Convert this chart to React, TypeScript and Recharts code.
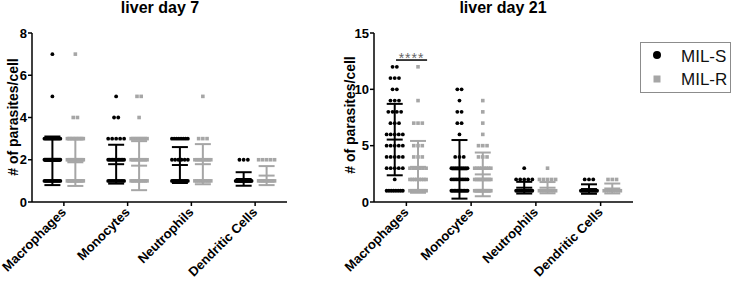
import React from 'react';
import { ScatterChart, Scatter, XAxis, YAxis, ErrorBar, ReferenceLine } from 'recharts';

const categories = ['Macrophages', 'Monocytes', 'Neutrophils', 'Dendritic Cells'];
const groups = ['MIL-S', 'MIL-R'];

// counts of cells per value (index = # of parasites/cell), one array per cell type
const day7MilS = [
  [0, 15, 20, 12, 0, 1, 0, 1],
  [0, 12, 12, 5, 2, 1],
  [0, 14, 6, 8],
  [0, 20, 3],
];
const day7MilR = [
  [0, 12, 14, 12, 2, 0, 0, 1],
  [0, 10, 10, 10, 1, 2],
  [0, 10, 10, 3, 0, 1],
  [0, 10, 5],
];
const day21MilS = [
  [0, 8, 1, 5, 5, 5, 5, 3, 4, 3, 2, 3, 2],
  [0, 12, 10, 9, 3, 0, 1, 2, 2, 1, 2],
  [0, 10, 5, 1],
  [0, 12, 3],
];
const day21MilR = [
  [0, 10, 8, 6, 3, 3, 0, 3, 0, 1, 0, 0, 1],
  [0, 15, 10, 8, 3, 3, 1, 1, 1, 1],
  [0, 8, 5, 1],
  [0, 8, 3],
];

// mean and SD per cell type
const day7MeanS = [1.95, 1.79, 1.75, 1.09];
const day7SdS = [1.15, 0.92, 0.85, 0.32];
const day7MeanR = [1.88, 1.72, 1.79, 1.25];
const day7SdR = [1.12, 1.16, 0.95, 0.45];
const day21MeanS = [5.54, 2.9, 1.27, 1.15];
const day21SdS = [3.17, 2.6, 0.52, 0.42];
const day21MeanR = [3.12, 2.45, 1.27, 1.2];
const day21SdR = [2.3, 1.94, 0.5, 0.44];

const day7Ticks = [0, 2, 4, 6, 8];
const day21Ticks = [0, 5, 10, 15];

const BLACK = '#000000';
const GREY = '#a6a6a6';
const FONT = 'Arial, "Liberation Sans", Helvetica, sans-serif';

const GROUP_OFFSET = 0.18;
const DOT_STEP = 0.066;
const MAX_HALF = 0.125;

function swarm(countsByCat: number[][], side: number) {
  const pts: { x: number; y: number }[] = [];
  countsByCat.forEach((counts, ci) => {
    const center = ci + 1 + side * GROUP_OFFSET;
    counts.forEach((n, v) => {
      if (!n) return;
      const natural = ((n - 1) * DOT_STEP) / 2;
      for (let j = 0; j < n; j++) {
        let off = 0;
        if (n > 1) {
          off = natural <= MAX_HALF ? (j - (n - 1) / 2) * DOT_STEP : -MAX_HALF + (2 * MAX_HALF * j) / (n - 1);
        }
        pts.push({ x: center + off, y: v });
      }
    });
  });
  return pts;
}

function meanRows(means: number[], sds: number[], side: number) {
  return means.map((m, i) => ({ x: i + 1 + side * GROUP_OFFSET, y: m, sd: sds[i] }));
}

const XTick = (props: any) => {
  const { x, y, payload } = props;
  return (
    <g transform={`translate(${x + 3},${y + 5})`}>
      <text
        x={0}
        y={0}
        textAnchor="end"
        transform="rotate(-45)"
        fontFamily={FONT}
        fontWeight="bold"
        fontSize={13}
        fill="#000"
      >
        {categories[payload.value - 1]}
      </text>
    </g>
  );
};

const Dot = (p: any) => <circle cx={p.cx} cy={p.cy} r={1.9} fill={BLACK} />;
const Sq = (p: any) => <rect x={p.cx - 1.8} y={p.cy - 1.8} width={3.6} height={3.6} fill={GREY} />;
const meanLine = (color: string) => (p: any) =>
  <line x1={p.cx - 8} x2={p.cx + 8} y1={p.cy} y2={p.cy} stroke={color} strokeWidth={2} />;

function Panel(props: {
  yMax: number;
  ticks: number[];
  sCounts: number[][];
  rCounts: number[][];
  sMean: number[];
  sSd: number[];
  rMean: number[];
  rSd: number[];
  yWidth: number;
  right: number;
  sig?: boolean;
}) {
  const sPts = swarm(props.sCounts, -1);
  const rPts = swarm(props.rCounts, 1);
  const sM = meanRows(props.sMean, props.sSd, -1);
  const rM = meanRows(props.rMean, props.rSd, 1);
  return (
    <ScatterChart width={300} height={281} margin={{ top: 33, right: props.right, bottom: 0, left: 0 }}>
      <XAxis
        type="number"
        dataKey="x"
        domain={[0.5, 4.5]}
        ticks={[1, 2, 3, 4]}
        allowDataOverflow
        height={79}
        tick={<XTick />}
        tickSize={4}
        stroke="#000"
        strokeWidth={1.5}
        interval={0}
      />
      <YAxis
        type="number"
        dataKey="y"
        domain={[0, props.yMax]}
        ticks={props.ticks}
        allowDataOverflow
        width={props.yWidth}
        tickSize={4}
        tickMargin={1}
        stroke="#000"
        strokeWidth={1.5}
        tick={{ fill: '#000', fontSize: 13, fontWeight: 'bold', fontFamily: FONT }}
        interval={0}
      />
      <Scatter name={groups[0]} data={sPts} shape={Dot} isAnimationActive={false} />
      <Scatter name={groups[1]} data={rPts} shape={Sq} isAnimationActive={false} />
      <Scatter data={sM} shape={meanLine(BLACK)} isAnimationActive={false}>
        <ErrorBar dataKey="sd" direction="y" width={8} stroke={BLACK} strokeWidth={2} isAnimationActive={false} />
      </Scatter>
      <Scatter data={rM} shape={meanLine(GREY)} isAnimationActive={false}>
        <ErrorBar dataKey="sd" direction="y" width={8} stroke={GREY} strokeWidth={2} isAnimationActive={false} />
      </Scatter>
      {props.sig && (
        <ReferenceLine
          segment={[
            { x: 0.84, y: 12.6 },
            { x: 1.32, y: 12.6 },
          ]}
          stroke="#000"
          strokeWidth={1.5}
          label={{
            value: '****',
            position: 'top',
            fill: '#666',
            fontSize: 14,
            fontFamily: FONT,
            offset: -3,
            letterSpacing: 1,
          }}
        />
      )}
    </ScatterChart>
  );
}

export default function App() {
  return (
    <div style={{ position: 'absolute', left: 0, top: 0, width: 734, height: 281, background: '#fff', fontFamily: FONT }}>
      <div style={{ position: 'absolute', left: 0, top: 0 }}>
        <Panel
          yMax={8}
          ticks={day7Ticks}
          sCounts={day7MilS}
          rCounts={day7MilR}
          sMean={day7MeanS}
          sSd={day7SdS}
          rMean={day7MeanR}
          rSd={day7SdR}
          yWidth={32}
          right={13}
        />
      </div>
      <div style={{ position: 'absolute', left: 340, top: 0 }}>
        <Panel
          yMax={15}
          ticks={day21Ticks}
          sCounts={day21MilS}
          rCounts={day21MilR}
          sMean={day21MeanS}
          sSd={day21SdS}
          rMean={day21MeanR}
          rSd={day21SdR}
          yWidth={34}
          right={7}
          sig
        />
      </div>
      <svg width={734} height={281} style={{ position: 'absolute', left: 0, top: 0, pointerEvents: 'none' }}>
        <text x={160} y={13} textAnchor="middle" fontFamily={FONT} fontWeight="bold" fontSize={16} fill="#000">
          liver day 7
        </text>
        <text x={503} y={13} textAnchor="middle" fontFamily={FONT} fontWeight="bold" fontSize={16} fill="#000">
          liver day 21
        </text>
        <text
          transform="translate(18,117) rotate(-90)"
          textAnchor="middle"
          fontFamily={FONT}
          fontWeight="bold"
          fontSize={14}
          fill="#000"
        >
          # of parasites/cell
        </text>
        <text
          transform="translate(355,115) rotate(-90)"
          textAnchor="middle"
          fontFamily={FONT}
          fontWeight="bold"
          fontSize={14}
          fill="#000"
        >
          # of parasites/cell
        </text>
        <rect x={640.5} y={42.5} width={90} height={50} fill="#fff" stroke="#8c8c8c" strokeWidth={1} />
        <circle cx={657} cy={55} r={4} fill={BLACK} />
        <rect x={653.5} y={75.5} width={7} height={7} fill={GREY} />
        <text x={681} y={62} fontFamily={FONT} fontSize={17} fill="#111">
          {groups[0]}
        </text>
        <text x={681} y={85} fontFamily={FONT} fontSize={17} fill="#111">
          {groups[1]}
        </text>
      </svg>
    </div>
  );
}
